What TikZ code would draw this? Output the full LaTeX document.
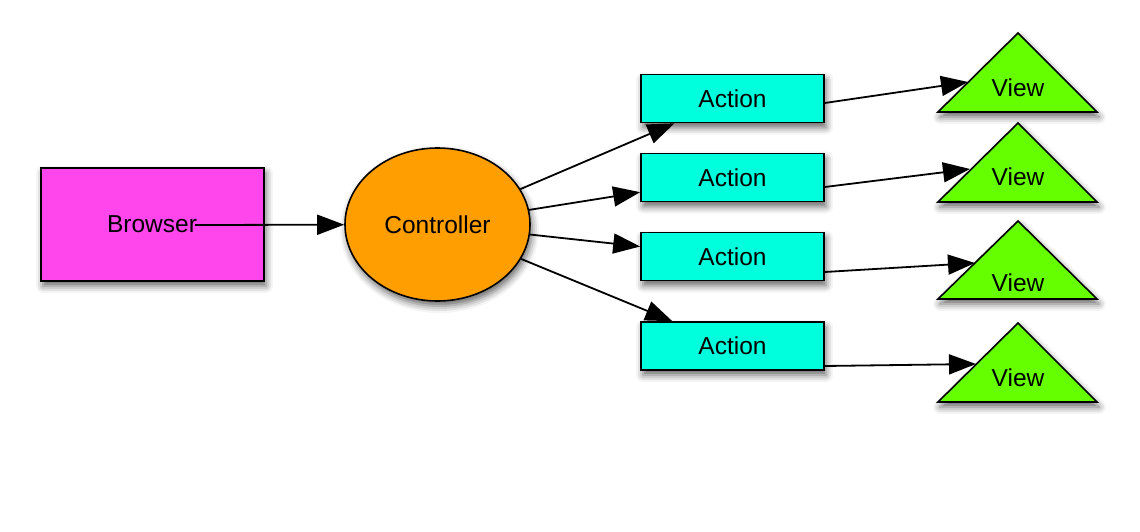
\documentclass[tikz,border=0pt]{standalone}
\usepackage{fontspec}
\setmainfont{Liberation Sans}
\usetikzlibrary{arrows.meta,shadows.blur,shapes.geometric}
\definecolor{browsercol}{RGB}{255,70,236}
\definecolor{ctrlcol}{RGB}{255,158,0}
\definecolor{actcol}{RGB}{0,255,221}
\definecolor{viewcol}{RGB}{102,255,0}
\tikzset{
  shad/.style={blur shadow={shadow xshift=2pt,shadow yshift=-5pt,shadow blur radius=7pt,shadow opacity=60}},
  box/.style={draw=black,line width=1.6pt,shad,inner sep=0pt,font=\fontsize{24.5}{28}\selectfont},
  actbox/.style={box,fill=actcol,minimum width=183pt,minimum height=48pt},
  viewtri/.style={draw=black,line width=1.6pt,fill=viewcol,shad},
  lbl/.style={inner sep=0pt,font=\fontsize{24.5}{28}\selectfont},
  conn/.style={line width=1.8pt,-{Triangle[length=27pt,width=20pt,fill=black]}}
}
\begin{document}
\begin{tikzpicture}[x=1pt,y=-1pt]
\useasboundingbox (0,0) rectangle (1140,532);
% Browser
\node[box,fill=browsercol,minimum width=223pt,minimum height=113pt] (browser) at (152.5,224.5) {};
\node[lbl] (browsertxt) at (152,224) {Browser};
\coordinate (bstart) at (195,225);
% Controller
\node[box,fill=ctrlcol,ellipse,minimum width=185pt,minimum height=153pt] (ctrl) at (437.5,224.5) {Controller};
% Actions
\node[actbox] (act1) at (732.5,98.5) {Action};
\node[actbox] (act2) at (732.5,177.5) {Action};
\node[actbox] (act3) at (732.5,256.5) {Action};
\node[actbox] (act4) at (732.5,346) {Action};
% Views
\path[viewtri] (1018,33) -- (1097,112) -- (938,112) -- cycle;
\node[lbl] (view1) at (1018,88) {View};
\coordinate (v1in) at (968,82);
\path[viewtri] (1018,123) -- (1097,202) -- (938,202) -- cycle;
\node[lbl] (view2) at (1018,177) {View};
\coordinate (v2in) at (970,169);
\path[viewtri] (1018,221) -- (1097,299) -- (938,299) -- cycle;
\node[lbl] (view3) at (1018,283) {View};
\coordinate (v3in) at (975,263);
\path[viewtri] (1018,323) -- (1097,402) -- (938,402) -- cycle;
\node[lbl] (view4) at (1018,378) {View};
\coordinate (v4in) at (976,364);
% Connectors
\draw[conn] (bstart) -- (ctrl);
\draw[conn] (ctrl) -- (act1);
\draw[conn] (ctrl) -- (act2);
\draw[conn] (ctrl) -- (act3);
\draw[conn] (ctrl) -- (act4);
\draw[conn] ([yshift=-4.5pt]act1.east) -- (v1in);
\draw[conn] ([yshift=-9.5pt]act2.east) -- (v2in);
\draw[conn] ([yshift=-15.5pt]act3.east) -- (v3in);
\draw[conn] ([yshift=-20pt]act4.east) -- (v4in);
\end{tikzpicture}
\end{document}
